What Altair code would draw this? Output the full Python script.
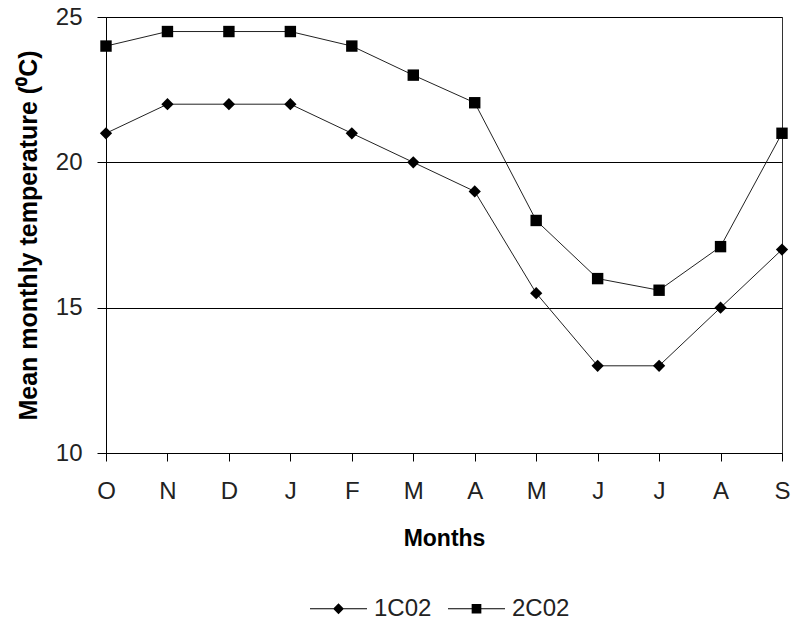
import json
import altair as alt
import pandas as pd

months = ["Oct", "Nov", "Dec", "Jan", "Feb", "Mar", "Apr", "May", "Jun", "Jul", "Aug", "Sep"]
month_labels = ["O", "N", "D", "J", "F", "M", "A", "M", "J", "J", "A", "S"]
series_names = ["1C02", "2C02"]
temp_1co2 = [21, 22, 22, 22, 21, 20, 19, 15.5, 13, 13, 15, 17]
temp_2co2 = [24, 24.5, 24.5, 24.5, 24, 23, 22.05, 18, 16, 15.6, 17.1, 21]
y_ticks = [10, 15, 20, 25]

rows = []
for name, vals in zip(series_names, [temp_1co2, temp_2co2]):
    for m, v in zip(months, vals):
        rows.append({"month": m, "series": name, "temp": v})
df = pd.DataFrame(rows)

label_expr = f"{json.dumps(month_labels)}[indexof({json.dumps(months)}, datum.value)]"
FONT = "Liberation Sans"

x = alt.X(
    "month:O", sort=months,
    scale=alt.Scale(type="point", padding=0),
    axis=alt.Axis(title="Months", labelExpr=label_expr, labelAngle=0, tickSize=8,
                  labelPadding=18, titlePadding=24, domainColor="black", tickColor="black",
                  labelFont=FONT, labelFontSize=24, labelColor="#222",
                  titleFont=FONT, titleFontSize=23, titleFontWeight="bold", titleColor="black",
                  grid=False),
)
y = alt.Y(
    "temp:Q",
    scale=alt.Scale(domain=[10, 25], nice=False, zero=False),
    axis=alt.Axis(title="Mean monthly temperature (\u2070C)", values=y_ticks, tickSize=9,
                  labelPadding=15, titlePadding=14, grid=True, gridColor="black", gridWidth=1,
                  gridOpacity=1, domainColor="black", tickColor="black",
                  labelFont=FONT, labelFontSize=24, labelColor="#222",
                  titleFont=FONT, titleFontSize=25, titleFontWeight="bold", titleColor="black"),
)

base = alt.Chart(df)
lines = base.mark_line(color="#222", strokeWidth=1).encode(x=x, y=y, detail="series:N")
is_first = alt.datum.series == series_names[0]
points = base.mark_point(filled=True, color="black", opacity=1).encode(
    x=x, y=y,
    shape=alt.condition(is_first, alt.value("diamond"), alt.value("square")),
    size=alt.condition(is_first, alt.value(150), alt.value(130)),
)

# legend symbols: thin filled bar (the line) plus the marker
bar = "M-1,-0.018L1,-0.018L1,0.018L-1,0.018Z"
diamond_path = bar + "M0,-0.19L0.19,0L0,0.19L-0.19,0Z"
square_path = bar + "M-0.17,-0.17L0.17,-0.17L0.17,0.17L-0.17,0.17Z"
legend_layer = base.transform_filter("false").mark_point(
    filled=True, color="black", opacity=1
).encode(
    shape=alt.Shape(
        "series:N",
        scale=alt.Scale(domain=series_names, range=[diamond_path, square_path]),
        legend=alt.Legend(orient="none", legendX=204, legendY=563, direction="horizontal",
                          title=None, symbolSize=3249, symbolStrokeWidth=0,
                          symbolFillColor="black", symbolOpacity=1,
                          labelFont=FONT, labelFontSize=24, labelColor="#222",
                          labelOffset=7, columnPadding=16, padding=0),
    )
)

chart = alt.layer(lines, points, legend_layer).properties(
    width=676, height=436,
    autosize=alt.AutoSizeParams(type="none"),
    padding={"left": 106, "top": 17, "right": 9, "bottom": 171},
    background="white",
).configure_view(stroke="#333", strokeWidth=1)

chart.save("out.html", embed_options={"renderer": "svg", "actions": False})
